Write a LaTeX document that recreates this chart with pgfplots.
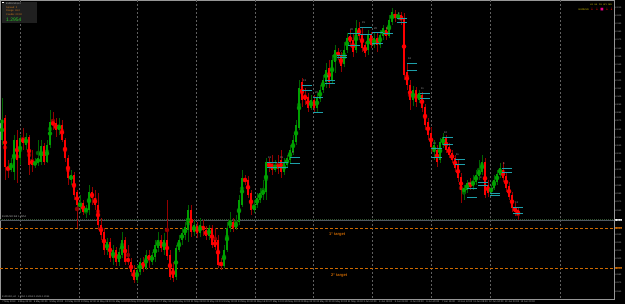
\documentclass[border=0pt]{standalone}
\usepackage{fontspec}
\setmainfont{Liberation Sans}
\newfontfamily\dejavu{DejaVu Sans}
\usepackage{pgfplots}
\usepackage{pgfplotstable}
\pgfplotsset{compat=1.18}
\definecolor{bull}{RGB}{0,160,0}
\definecolor{bear}{RGB}{255,0,0}
\definecolor{bullw}{RGB}{0,100,0}
\definecolor{bearw}{RGB}{150,0,0}
\definecolor{tgt}{RGB}{205,105,0}
\definecolor{cyanl}{RGB}{30,160,170}
\definecolor{gridc}{RGB}{95,95,95}
\definecolor{axc}{RGB}{150,150,150}
\definecolor{lbl}{RGB}{170,170,170}
\definecolor{bidl}{RGB}{80,88,94}
\definecolor{bidd}{RGB}{50,80,50}
\definecolor{boxc}{RGB}{32,32,32}
\definecolor{infoor}{RGB}{200,120,30}
\definecolor{infogr}{RGB}{40,200,40}
\definecolor{yel}{RGB}{220,200,0}
\newcommand\tf{\fontsize{2.5}{3}\selectfont}
\newcommand\rf{\fontsize{2.2}{2.6}\selectfont}
\newcommand\lab[3]{\node[font=\fontsize{2.6}{3}\selectfont, text=lbl, anchor=west, inner sep=0pt] at (axis cs:#1,#2) {#3};}

\pgfplotstableread{
x o h l c
2 140 98 145 120
5 118 115 180 167
8 167 160 178 170
11 170 158 172 163
14 172 135 180 140
17 140 130 183 160
20 158 135 165 138
23 138 128 150 143
26 145 133 150 137
29 137 135 175 165
32 160 150 172 165
35 165 158 168 162
38 163 140 166 158
41 162 140 165 146
44 146 143 165 162
47 162 140 163 145
50 145 110 148 122
53 122 112 130 125
56 123 118 137 130
59 130 118 135 125
62 125 120 142 140
65 140 138 162 158
68 158 155 185 178
71 180 170 185 175
74 175 172 200 195
77 192 190 228 205
80 207 195 213 203
83 203 200 215 212
86 212 205 218 208
89 210 185 215 192
92 192 187 205 198
95 198 190 210 205
98 205 193 230 225
101 225 218 240 235
104 232 228 255 250
107 250 238 255 242
110 242 238 262 258
113 258 245 265 250
116 250 247 266 262
119 262 248 266 252
122 255 232 258 240
125 240 237 265 262
128 258 245 265 262
131 262 258 276 272
134 270 265 283 280
137 280 265 283 270
140 272 258 275 262
143 262 257 272 268
146 268 250 270 255
149 255 250 268 260
152 262 252 265 255
155 257 240 262 245
158 248 232 252 240
161 240 235 252 248
164 250 233 255 240
167 240 200 260 256
170 255 250 280 277
173 268 262 282 278
176 277 245 280 248
179 250 235 252 240
182 240 228 245 233
185 235 222 240 227
188 230 205 242 210
191 210 205 237 232
194 232 220 236 225
197 226 222 238 233
200 233 218 237 225
203 226 220 236 230
206 230 226 240 236
209 236 225 240 228
212 228 225 248 245
215 240 228 250 247
218 240 235 268 265
221 262 258 270 266
224 266 245 268 250
227 250 222 252 228
230 228 212 232 220
233 222 218 232 228
236 228 215 230 222
239 222 195 225 200
242 205 170 207 178
245 178 175 185 182
248 180 176 198 195
251 193 190 215 210
254 210 200 213 205
257 205 193 208 198
260 200 188 203 193
263 195 180 200 190
266 192 158 200 162
269 162 158 172 168
272 164 155 175 170
275 170 160 172 165
278 165 155 174 168
281 160 150 178 172
284 172 158 175 163
287 165 155 168 158
290 160 145 163 150
293 152 135 155 140
296 142 120 145 125
299 128 80 130 88
302 82 78 107 100
305 95 88 105 100
308 97 93 112 108
311 108 95 110 100
314 100 95 112 108
317 108 93 112 98
320 99 85 102 90
323 90 75 93 80
326 82 63 88 70
329 68 60 88 82
332 80 55 83 60
335 62 45 73 50
338 52 48 60 56
341 55 52 72 66
344 64 42 67 50
347 50 33 53 38
350 36 30 47 42
353 40 33 57 52
356 50 20 53 28
359 28 22 40 36
362 34 28 52 48
365 45 42 57 53
368 50 30 55 35
371 35 32 48 45
374 45 33 48 38
377 38 33 52 45
380 45 30 48 35
383 36 25 40 28
386 30 27 40 36
389 36 15 38 20
392 22 8 25 12
395 14 10 22 18
398 18 12 20 15
401 15 12 25 20
404 18 13 80 75
407 72 63 90 85
410 85 80 110 100
413 100 86 106 90
416 90 87 107 102
419 100 90 103 93
422 95 92 112 108
425 107 104 130 125
428 122 118 140 135
431 133 127 152 147
434 152 140 160 145
437 150 145 167 162
440 160 138 163 142
443 145 133 148 137
446 138 135 153 150
449 147 143 158 155
452 153 150 163 160
455 158 155 172 168
458 165 160 182 178
461 177 173 203 190
464 192 185 200 188
467 190 180 193 183
470 183 178 190 187
473 186 175 190 181
476 182 170 185 175
479 176 160 180 170
482 172 155 175 162
485 162 158 198 195
488 185 180 197 193
491 192 185 195 188
494 188 175 190 180
497 182 170 185 174
500 175 163 178 168
503 170 162 182 178
506 176 172 192 188
509 186 182 200 197
512 195 192 212 208
515 207 203 216 212
518 210 208 220 215
}\candles

\pgfplotstableread{
x y
267 162
277 162
nan nan
267 167
277 167
nan nan
278 162
288 162
nan nan
278 167
288 167
nan nan
290 157
300 157
nan nan
290 163
300 163
nan nan
302 85
312 85
nan nan
302 90
312 90
nan nan
313 97
323 97
nan nan
313 112
323 112
nan nan
325 80
335 80
nan nan
325 83
335 83
nan nan
337 55
347 55
nan nan
337 57
347 57
nan nan
348 33
360 33
nan nan
348 45
360 45
nan nan
360 27
372 27
nan nan
360 34
372 34
nan nan
372 32
383 32
nan nan
372 43
383 43
nan nan
383 33
393 33
nan nan
397 18
407 18
nan nan
397 22
407 22
nan nan
407 63
417 63
nan nan
407 70
417 70
nan nan
420 93
430 93
nan nan
420 98
430 98
nan nan
431 148
442 148
nan nan
431 157
442 157
nan nan
443 137
453 137
nan nan
443 144
453 144
nan nan
455 159
465 159
nan nan
455 164
465 164
nan nan
467 188
477 188
nan nan
467 197
477 197
nan nan
478 182
488 182
nan nan
478 185
488 185
nan nan
490 193
500 193
nan nan
490 195
500 195
nan nan
502 168
512 168
nan nan
502 172
512 172
nan nan
513 207
523 207
nan nan
513 213
523 213
}\cyanlines

\begin{document}
\begin{tikzpicture}
\path[use as bounding box, fill=black] (0,0) rectangle (625pt,304pt);
\begin{axis}[
  at={(0pt,304pt)}, anchor=north west,
  scale only axis, width=614pt, height=299pt,
  xmin=0, xmax=614, ymin=0, ymax=299, y dir=reverse,
  axis line style={axc, line width=0.6pt},
  clip mode=individual,
  unbounded coords=jump,
  xtick={2,17.7,...,530},
  xticklabels={7 May 2013, 8 May 04:00, 9 May 00:00, 9 May 20:00, 10 May 16:00, 13 May 12:00, 14 May 08:00, 15 May 04:00, 16 May 00:00, 16 May 20:00, 17 May 16:00, 20 May 12:00, 21 May 08:00, 22 May 04:00, 23 May 00:00, 23 May 20:00, 24 May 16:00, 27 May 12:00, 28 May 08:00, 29 May 04:00, 30 May 00:00, 30 May 20:00, 31 May 16:00, 3 Jun 12:00, 4 Jun 08:00, 5 Jun 04:00, 6 Jun 00:00, 6 Jun 20:00, 7 Jun 16:00, 10 Jun 12:00, 11 Jun 08:00, 12 Jun 04:00, 13 Jun 00:00, 13 Jun 20:00},
  xticklabel style={font=\tf, text=lbl, anchor=north west, inner sep=0.2pt, yshift=-0.3pt},
  ytick={7.8,15.9,24,32.1,40.2,48.3,56.4,64.5,72.6,80.7,88.8,96.9,105,113.1,121.2,129.3,137.4,145.5,153.6,161.7,169.8,177.9,186,194.1,202.2,210.3,234.6,242.7,250.8,258.9,275.1,283.2,291.3},
  xtick pos=left, ytick pos=right, yticklabel pos=right,
  yticklabel style={font=\rf, text=lbl, anchor=west, inner sep=0pt, xshift=-0.6pt},
  yticklabel={\pgfmathparse{1.2950+(218.4-\tick)/8100}\pgfmathprintnumber[fixed,precision=4,fixed zerofill]{\pgfmathresult}},
  /pgf/number format/assume math mode=true,
  tick style={axc, line width=0.4pt}, major tick length=1pt, tick align=outside,
  extra x ticks={20.7,79.3,137.3,196.7,255.3,313.3,372,431,490.3,560},
  extra x tick labels={},
  extra x tick style={grid=major, major grid style={gridc, dash pattern=on 2pt off 2pt, line width=0.5pt}, major tick length=0pt},
]
% info box
\fill[boxc] (axis cs:2,2) rectangle (axis cs:37,23);
\fill[white] (axis cs:2,2) rectangle (axis cs:3.5,3.5);
\node[font=\tf, text=lbl, anchor=west, inner sep=0pt] at (axis cs:6,4) {EURUSD,H4};
\node[font=\tf, text=infoor, anchor=west, inner sep=0pt] at (axis cs:6,7.5) {Spread: 2};
\node[font=\tf, text=infoor, anchor=west, inner sep=0pt] at (axis cs:6,11) {Range: 36.0};
\node[font=\tf, text=infoor, anchor=west, inner sep=0pt] at (axis cs:6,14.5) {Candle: 00:00};
\node[font=\fontsize{5}{5}\selectfont, text=infogr, anchor=west, inner sep=0pt] at (axis cs:6,19.5) {1.2954};
% top-right panel
\node[font=\fontsize{2.2}{2.5}\selectfont, text=yel, anchor=center, inner sep=0pt] at (axis cs:601,5) {H1 \, H4 \, D1 \, W1 \, MN};
\node[font=\fontsize{2.4}{2.5}\selectfont, text=yel, anchor=east, inner sep=0pt] at (axis cs:589,9.5) {EURUSD};
\node[font=\dejavu\fontsize{3.5}{3.5}\selectfont, text=bear, inner sep=0pt] at (axis cs:592,9.5) {↓};
\node[font=\dejavu\fontsize{3.5}{3.5}\selectfont, text=bear, inner sep=0pt] at (axis cs:597,9.5) {↓};
\node[font=\dejavu\fontsize{3.5}{3.5}\selectfont, text=magenta, inner sep=0pt] at (axis cs:602,9.5) {■};
\node[font=\dejavu\fontsize{3.5}{3.5}\selectfont, text=bear, inner sep=0pt] at (axis cs:607,9.5) {↓};
\node[font=\dejavu\fontsize{3.5}{3.5}\selectfont, text=bear, inner sep=0pt] at (axis cs:611.5,9.5) {↓};
% horizontal levels
\addplot[bidd, dash pattern=on 1pt off 1pt, line width=0.5pt, forget plot] coordinates {(0,219) (614,219)};
\addplot[bidl, line width=0.8pt, forget plot] coordinates {(0,220.3) (614,220.3)};
\addplot[tgt, dash pattern=on 3pt off 2pt, line width=0.7pt, forget plot] coordinates {(0,228.3) (614,228.3)};
\addplot[tgt, dash pattern=on 3pt off 2pt, line width=0.7pt, forget plot] coordinates {(0,268.3) (614,268.3)};
\node[font=\fontsize{2.6}{3}\selectfont, text=lbl, anchor=west, inner sep=0pt] at (axis cs:2,217) {EURUSD bid 1.2954};
\node[font=\bfseries\fontsize{4}{4}\selectfont, text=tgt, anchor=west, inner sep=0pt] at (axis cs:329,235) {1° target};
\node[font=\bfseries\fontsize{4}{4}\selectfont, text=tgt, anchor=west, inner sep=0pt] at (axis cs:331,275.5) {2° target};
\node[font=\rf, fill=white, text=black, anchor=west, inner sep=0.25pt] at (axis cs:614.6,220.3) {1.2948};
\node[font=\rf, fill=tgt, text=black, anchor=west, inner sep=0.25pt] at (axis cs:614.6,228.3) {1.2938};
\node[font=\rf, fill=tgt, text=black, anchor=west, inner sep=0.25pt] at (axis cs:614.6,268.3) {1.2888};
\node[font=\fontsize{2.4}{2.5}\selectfont, text=lbl, anchor=west, inner sep=0pt] at (axis cs:2,296.5) {EURUSD,H4 \; 1.2951 1.2958 1.2946 1.2954};
% wicks
\addplot[bearw, only marks, mark=none, forget plot,
  restrict expr to domain={\thisrow{c}-\thisrow{o}}{0:1000},
  error bars/.cd, y dir=both, y explicit, error mark=none,
  error bar style={line width=0.6pt, bearw}]
  table[x=x, y expr={(\thisrow{h}+\thisrow{l})/2}, y error expr={(\thisrow{l}-\thisrow{h})/2}] {\candles};
\addplot[bullw, only marks, mark=none, forget plot,
  restrict expr to domain={\thisrow{o}-\thisrow{c}}{0.001:1000},
  error bars/.cd, y dir=both, y explicit, error mark=none,
  error bar style={line width=0.6pt, bullw}]
  table[x=x, y expr={(\thisrow{h}+\thisrow{l})/2}, y error expr={(\thisrow{l}-\thisrow{h})/2}] {\candles};
% bodies
\addplot[bear, only marks, mark=none, forget plot,
  restrict expr to domain={\thisrow{c}-\thisrow{o}}{0:1000},
  error bars/.cd, y dir=both, y explicit, error mark=none,
  error bar style={line width=1.6pt, bear}]
  table[x=x, y expr={(\thisrow{o}+\thisrow{c})/2}, y error expr={abs(\thisrow{o}-\thisrow{c})/2}] {\candles};
\addplot[bull, only marks, mark=none, forget plot,
  restrict expr to domain={\thisrow{o}-\thisrow{c}}{0.001:1000},
  error bars/.cd, y dir=both, y explicit, error mark=none,
  error bar style={line width=1.6pt, bull}]
  table[x=x, y expr={(\thisrow{o}+\thisrow{c})/2}, y error expr={abs(\thisrow{o}-\thisrow{c})/2}] {\candles};
% indicator boxes
\addplot[cyanl, line width=0.6pt, forget plot] table[x=x, y=y] {\cyanlines};
\lab{268}{158}{16}
\lab{280}{157.5}{15}
\lab{292}{153}{8}
\lab{303}{81}{13}
\lab{315}{93}{20}
\lab{327}{77}{6}
\lab{340}{52}{7}
\lab{350}{30}{20}
\lab{362}{23}{15}
\lab{374}{29}{20}
\lab{386}{29}{4}
\lab{398}{14}{4}
\lab{408}{59}{16}
\lab{421}{89}{11}
\lab{433}{144}{10}
\lab{444}{133}{10}
\lab{456}{155}{11}
\lab{468}{184}{10}
\lab{480}{178}{4}
\lab{492}{189}{4}
\lab{503}{164}{4}
\lab{515}{203}{13}
\end{axis}
\end{tikzpicture}
\end{document}
